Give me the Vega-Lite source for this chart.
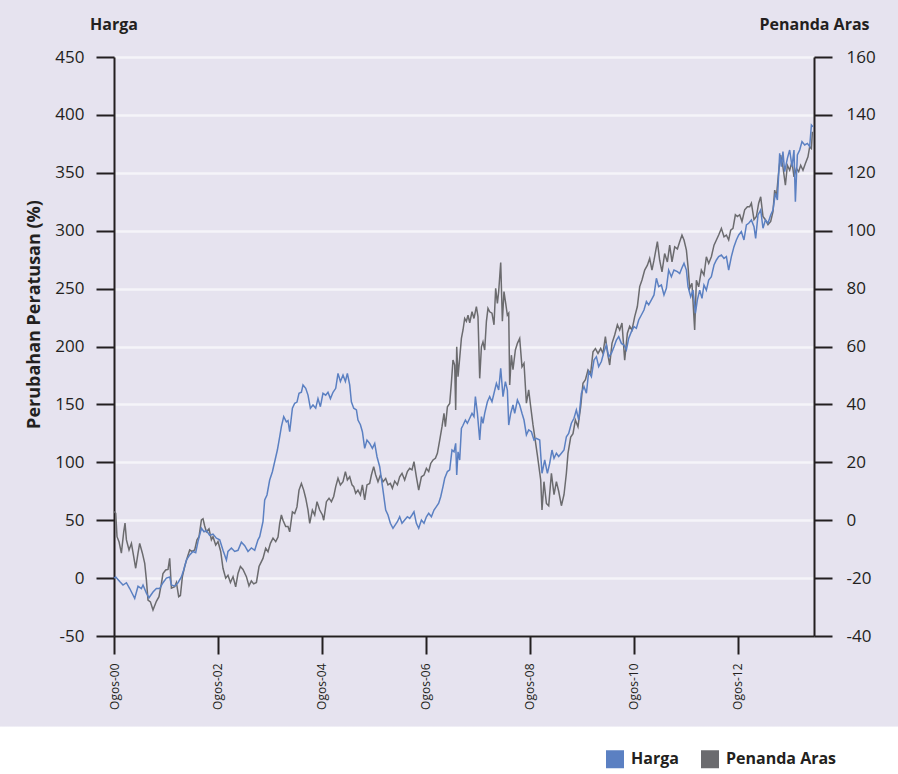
{
  "$schema": "https://vega.github.io/schema/vega-lite/v6.json",
  "width": 700,
  "height": 579,
  "autosize": {"type": "none"},
  "padding": {"left": 114, "top": 57, "right": 84, "bottom": 138},
  "background": "#ffffff",
  "datasets": {
    "harga": [
      {"year":2000.585,"value":0},{"year":2000.616,"value":1},{"year":2000.693,"value":-3},{"year":2000.756,"value":-6},{"year":2000.822,"value":-4},{"year":2000.885,"value":-9},{"year":2000.948,"value":-14.6},{"year":2000.981,"value":-17.5},{"year":2001.045,"value":-7},{"year":2001.110,"value":-9},{"year":2001.141,"value":-6},{"year":2001.206,"value":-13},{"year":2001.256,"value":-17},{"year":2001.333,"value":-12},{"year":2001.398,"value":-9},{"year":2001.462,"value":-9},{"year":2001.525,"value":-4},{"year":2001.591,"value":0},{"year":2001.654,"value":1},{"year":2001.687,"value":-6},{"year":2001.750,"value":-7},{"year":2001.814,"value":-4},{"year":2001.879,"value":1},{"year":2001.923,"value":7},{"year":2001.975,"value":15.6},{"year":2002.039,"value":20},{"year":2002.102,"value":23},{"year":2002.154,"value":22},{"year":2002.198,"value":31.5},{"year":2002.264,"value":43},{"year":2002.314,"value":40},{"year":2002.360,"value":41},{"year":2002.423,"value":37},{"year":2002.487,"value":38},{"year":2002.552,"value":34.5},{"year":2002.616,"value":33},{"year":2002.679,"value":24},{"year":2002.745,"value":15.6},{"year":2002.775,"value":23},{"year":2002.841,"value":26},{"year":2002.904,"value":23},{"year":2002.968,"value":24},{"year":2003.033,"value":31},{"year":2003.097,"value":28},{"year":2003.160,"value":23},{"year":2003.225,"value":26},{"year":2003.289,"value":24},{"year":2003.352,"value":33},{"year":2003.385,"value":35.8},{"year":2003.448,"value":48.7},{"year":2003.481,"value":67.5},{"year":2003.525,"value":71.8},{"year":2003.577,"value":84.7},{"year":2003.629,"value":91.9},{"year":2003.673,"value":100.5},{"year":2003.725,"value":110.6},{"year":2003.770,"value":122.1},{"year":2003.802,"value":130.8},{"year":2003.847,"value":139.4},{"year":2003.898,"value":135},{"year":2003.929,"value":136},{"year":2003.962,"value":126.4},{"year":2004.014,"value":146.7},{"year":2004.058,"value":151},{"year":2004.102,"value":152},{"year":2004.141,"value":159.6},{"year":2004.187,"value":160.5},{"year":2004.218,"value":166.8},{"year":2004.270,"value":163.9},{"year":2004.314,"value":158},{"year":2004.360,"value":146.7},{"year":2004.410,"value":149.5},{"year":2004.462,"value":146.7},{"year":2004.506,"value":155},{"year":2004.552,"value":148},{"year":2004.602,"value":159.6},{"year":2004.654,"value":158},{"year":2004.698,"value":160.5},{"year":2004.745,"value":155},{"year":2004.795,"value":160.5},{"year":2004.847,"value":163.9},{"year":2004.891,"value":176.8},{"year":2004.937,"value":169.8},{"year":2004.987,"value":175.4},{"year":2005.033,"value":169.8},{"year":2005.071,"value":176.8},{"year":2005.116,"value":166.8},{"year":2005.148,"value":152.3},{"year":2005.193,"value":146.7},{"year":2005.245,"value":145.2},{"year":2005.275,"value":136.5},{"year":2005.322,"value":132.4},{"year":2005.360,"value":126.4},{"year":2005.404,"value":112},{"year":2005.448,"value":119.2},{"year":2005.500,"value":116.3},{"year":2005.552,"value":112},{"year":2005.597,"value":116.3},{"year":2005.641,"value":104.8},{"year":2005.693,"value":96.2},{"year":2005.756,"value":76},{"year":2005.808,"value":58.8},{"year":2005.852,"value":54.5},{"year":2005.898,"value":47.3},{"year":2005.948,"value":43},{"year":2006.033,"value":48.7},{"year":2006.077,"value":53},{"year":2006.122,"value":47.3},{"year":2006.173,"value":50.2},{"year":2006.225,"value":53},{"year":2006.270,"value":51.6},{"year":2006.314,"value":54.5},{"year":2006.352,"value":57.3},{"year":2006.398,"value":47.3},{"year":2006.443,"value":43},{"year":2006.495,"value":50.2},{"year":2006.545,"value":47.3},{"year":2006.591,"value":53},{"year":2006.635,"value":56},{"year":2006.687,"value":53},{"year":2006.737,"value":58.8},{"year":2006.783,"value":61.7},{"year":2006.827,"value":64.6},{"year":2006.866,"value":70.3},{"year":2006.910,"value":79},{"year":2006.943,"value":86.2},{"year":2006.995,"value":92},{"year":2007.039,"value":93.4},{"year":2007.083,"value":110.6},{"year":2007.122,"value":109},{"year":2007.154,"value":116.4},{"year":2007.174,"value":89},{"year":2007.199,"value":109},{"year":2007.231,"value":102},{"year":2007.264,"value":129.3},{"year":2007.295,"value":132},{"year":2007.341,"value":136.5},{"year":2007.379,"value":133.7},{"year":2007.424,"value":138},{"year":2007.468,"value":142.3},{"year":2007.506,"value":139.5},{"year":2007.533,"value":156.7},{"year":2007.572,"value":142.3},{"year":2007.616,"value":119.3},{"year":2007.649,"value":139.5},{"year":2007.679,"value":133.7},{"year":2007.712,"value":142.3},{"year":2007.764,"value":152.3},{"year":2007.808,"value":156.7},{"year":2007.852,"value":152.3},{"year":2007.891,"value":159.6},{"year":2007.937,"value":168.2},{"year":2007.981,"value":162.4},{"year":2008.020,"value":181.2},{"year":2008.064,"value":156.7},{"year":2008.110,"value":169.7},{"year":2008.148,"value":162.4},{"year":2008.174,"value":132.2},{"year":2008.212,"value":142.3},{"year":2008.256,"value":149.5},{"year":2008.289,"value":142.3},{"year":2008.341,"value":153.8},{"year":2008.385,"value":149.5},{"year":2008.429,"value":142.3},{"year":2008.468,"value":136.5},{"year":2008.514,"value":123.6},{"year":2008.558,"value":128},{"year":2008.610,"value":126.4},{"year":2008.660,"value":119.3},{"year":2008.706,"value":120.7},{"year":2008.770,"value":119.3},{"year":2008.814,"value":90.5},{"year":2008.866,"value":102},{"year":2008.918,"value":90.5},{"year":2008.962,"value":99},{"year":2009.006,"value":110.6},{"year":2009.045,"value":103.4},{"year":2009.091,"value":107.8},{"year":2009.135,"value":105},{"year":2009.187,"value":107.8},{"year":2009.237,"value":110.6},{"year":2009.283,"value":122.1},{"year":2009.327,"value":125},{"year":2009.379,"value":133.7},{"year":2009.429,"value":138},{"year":2009.475,"value":145.2},{"year":2009.520,"value":136.6},{"year":2009.572,"value":159.6},{"year":2009.622,"value":165.4},{"year":2009.668,"value":159.6},{"year":2009.712,"value":178.3},{"year":2009.764,"value":174},{"year":2009.814,"value":188.3},{"year":2009.860,"value":191.2},{"year":2009.904,"value":182.6},{"year":2009.956,"value":187},{"year":2010.006,"value":195.5},{"year":2010.052,"value":201.3},{"year":2010.097,"value":191.2},{"year":2010.149,"value":194.1},{"year":2010.199,"value":199.8},{"year":2010.245,"value":205.6},{"year":2010.289,"value":208.5},{"year":2010.341,"value":202.7},{"year":2010.391,"value":201.3},{"year":2010.437,"value":197},{"year":2010.481,"value":207},{"year":2010.533,"value":212.8},{"year":2010.583,"value":217.2},{"year":2010.629,"value":215.7},{"year":2010.674,"value":222.9},{"year":2010.725,"value":227.2},{"year":2010.775,"value":231.5},{"year":2010.822,"value":238.8},{"year":2010.866,"value":235.9},{"year":2010.918,"value":240.2},{"year":2010.968,"value":244.5},{"year":2011.014,"value":258.9},{"year":2011.058,"value":251.7},{"year":2011.110,"value":253.1},{"year":2011.160,"value":244.5},{"year":2011.206,"value":250.2},{"year":2011.250,"value":266},{"year":2011.302,"value":260.3},{"year":2011.352,"value":266},{"year":2011.418,"value":264.6},{"year":2011.462,"value":263},{"year":2011.506,"value":268},{"year":2011.545,"value":271.8},{"year":2011.591,"value":266},{"year":2011.622,"value":251.7},{"year":2011.674,"value":243},{"year":2011.718,"value":248.7},{"year":2011.764,"value":228.7},{"year":2011.802,"value":240.2},{"year":2011.847,"value":248.7},{"year":2011.891,"value":241.6},{"year":2011.929,"value":253.1},{"year":2011.975,"value":248.7},{"year":2012.020,"value":257.4},{"year":2012.071,"value":260.3},{"year":2012.122,"value":270.4},{"year":2012.168,"value":274.7},{"year":2012.212,"value":277.6},{"year":2012.264,"value":279},{"year":2012.314,"value":276.1},{"year":2012.360,"value":277.6},{"year":2012.404,"value":266},{"year":2012.456,"value":277.6},{"year":2012.506,"value":286.2},{"year":2012.552,"value":292},{"year":2012.597,"value":296.3},{"year":2012.648,"value":299.2},{"year":2012.698,"value":292},{"year":2012.745,"value":305},{"year":2012.789,"value":306.4},{"year":2012.841,"value":309.2},{"year":2012.891,"value":303.5},{"year":2012.923,"value":293.4},{"year":2012.968,"value":313.6},{"year":2013.020,"value":317.9},{"year":2013.064,"value":302.1},{"year":2013.110,"value":309.2},{"year":2013.160,"value":306.4},{"year":2013.212,"value":313.6},{"year":2013.256,"value":317.9},{"year":2013.302,"value":332.3},{"year":2013.341,"value":326.5},{"year":2013.385,"value":366.8},{"year":2013.418,"value":355.3},{"year":2013.448,"value":368.3},{"year":2013.481,"value":351},{"year":2013.533,"value":362.5},{"year":2013.577,"value":369.7},{"year":2013.622,"value":355.3},{"year":2013.660,"value":369.7},{"year":2013.687,"value":325},{"year":2013.725,"value":365.4},{"year":2013.770,"value":369.7},{"year":2013.814,"value":376.9},{"year":2013.866,"value":374},{"year":2013.918,"value":375.4},{"year":2013.962,"value":372.6},{"year":2013.995,"value":391.3},{"year":2014.025,"value":389.8}
    ],
    "aras": [
      {"year":2000.585,"value":3},{"year":2000.616,"value":2.4},{"year":2000.641,"value":-5.7},{"year":2000.679,"value":-7.4},{"year":2000.725,"value":-11.4},{"year":2000.770,"value":-4},{"year":2000.795,"value":-1},{"year":2000.822,"value":-6.8},{"year":2000.872,"value":-10.3},{"year":2000.918,"value":-8},{"year":2000.962,"value":-12.6},{"year":2001.000,"value":-16.6},{"year":2001.045,"value":-11.4},{"year":2001.077,"value":-8},{"year":2001.129,"value":-11.4},{"year":2001.174,"value":-14.9},{"year":2001.206,"value":-20.6},{"year":2001.237,"value":-27.6},{"year":2001.283,"value":-28.2},{"year":2001.333,"value":-31},{"year":2001.398,"value":-28},{"year":2001.448,"value":-26.4},{"year":2001.495,"value":-21.8},{"year":2001.525,"value":-18.4},{"year":2001.577,"value":-17.2},{"year":2001.622,"value":-17},{"year":2001.654,"value":-13.2},{"year":2001.687,"value":-23.5},{"year":2001.750,"value":-23},{"year":2001.783,"value":-21.5},{"year":2001.827,"value":-26.4},{"year":2001.860,"value":-26},{"year":2001.898,"value":-19.5},{"year":2001.943,"value":-16},{"year":2001.987,"value":-13.2},{"year":2002.039,"value":-10.3},{"year":2002.083,"value":-10.8},{"year":2002.135,"value":-10.3},{"year":2002.179,"value":-6.8},{"year":2002.218,"value":-5.7},{"year":2002.264,"value":0.1},{"year":2002.295,"value":0.5},{"year":2002.327,"value":-2},{"year":2002.360,"value":-4},{"year":2002.410,"value":-3},{"year":2002.456,"value":-6.8},{"year":2002.487,"value":-5.7},{"year":2002.539,"value":-8.6},{"year":2002.583,"value":-7.4},{"year":2002.635,"value":-10.8},{"year":2002.679,"value":-16.6},{"year":2002.731,"value":-20},{"year":2002.775,"value":-19},{"year":2002.822,"value":-21.5},{"year":2002.872,"value":-19.5},{"year":2002.923,"value":-23},{"year":2002.968,"value":-18.4},{"year":2003.014,"value":-16},{"year":2003.064,"value":-17},{"year":2003.129,"value":-19.5},{"year":2003.179,"value":-22.7},{"year":2003.225,"value":-21},{"year":2003.270,"value":-22},{"year":2003.322,"value":-21.5},{"year":2003.372,"value":-16},{"year":2003.448,"value":-13.2},{"year":2003.500,"value":-9.7},{"year":2003.545,"value":-10.9},{"year":2003.591,"value":-8},{"year":2003.641,"value":-6.2},{"year":2003.693,"value":-7.4},{"year":2003.737,"value":-5.8},{"year":2003.770,"value":-1.1},{"year":2003.802,"value":1.8},{"year":2003.833,"value":0},{"year":2003.885,"value":-2.2},{"year":2003.929,"value":-2.2},{"year":2003.962,"value":-4},{"year":2004.014,"value":2.9},{"year":2004.058,"value":2.3},{"year":2004.102,"value":4.6},{"year":2004.141,"value":10.4},{"year":2004.187,"value":12.7},{"year":2004.231,"value":10.4},{"year":2004.270,"value":7.6},{"year":2004.314,"value":3.5},{"year":2004.347,"value":-1.1},{"year":2004.398,"value":3.5},{"year":2004.443,"value":1.8},{"year":2004.487,"value":6.4},{"year":2004.539,"value":3.5},{"year":2004.591,"value":1.8},{"year":2004.616,"value":0},{"year":2004.668,"value":6.4},{"year":2004.718,"value":7.6},{"year":2004.764,"value":6.4},{"year":2004.808,"value":8.2},{"year":2004.847,"value":11.6},{"year":2004.891,"value":14.5},{"year":2004.937,"value":12.2},{"year":2004.987,"value":13.3},{"year":2005.033,"value":16.8},{"year":2005.071,"value":13.9},{"year":2005.116,"value":15},{"year":2005.160,"value":12.2},{"year":2005.193,"value":11.6},{"year":2005.231,"value":9.3},{"year":2005.275,"value":10.4},{"year":2005.322,"value":8.7},{"year":2005.360,"value":12.2},{"year":2005.404,"value":7},{"year":2005.448,"value":12.2},{"year":2005.500,"value":12.7},{"year":2005.533,"value":15.6},{"year":2005.577,"value":18.5},{"year":2005.616,"value":15.6},{"year":2005.660,"value":13.3},{"year":2005.706,"value":15.6},{"year":2005.756,"value":13.3},{"year":2005.808,"value":14.4},{"year":2005.852,"value":12.2},{"year":2005.898,"value":12.7},{"year":2005.937,"value":11},{"year":2005.981,"value":13.5},{"year":2006.033,"value":12.2},{"year":2006.077,"value":15},{"year":2006.122,"value":16.2},{"year":2006.173,"value":13.9},{"year":2006.225,"value":16.8},{"year":2006.270,"value":17.9},{"year":2006.314,"value":17.4},{"year":2006.352,"value":20.2},{"year":2006.398,"value":15},{"year":2006.443,"value":10.4},{"year":2006.495,"value":15},{"year":2006.545,"value":15.6},{"year":2006.591,"value":17.9},{"year":2006.635,"value":16.8},{"year":2006.674,"value":19.6},{"year":2006.718,"value":20.8},{"year":2006.764,"value":21.4},{"year":2006.802,"value":23.1},{"year":2006.847,"value":27.7},{"year":2006.891,"value":32.3},{"year":2006.929,"value":36.9},{"year":2006.956,"value":32.3},{"year":2006.995,"value":39.2},{"year":2007.039,"value":40.3},{"year":2007.071,"value":47.3},{"year":2007.102,"value":55.3},{"year":2007.135,"value":53.6},{"year":2007.154,"value":38.1},{"year":2007.174,"value":59.9},{"year":2007.199,"value":49.6},{"year":2007.231,"value":56},{"year":2007.264,"value":62.8},{"year":2007.295,"value":65.7},{"year":2007.327,"value":69.7},{"year":2007.360,"value":68.7},{"year":2007.391,"value":70.8},{"year":2007.424,"value":68.2},{"year":2007.468,"value":72},{"year":2007.506,"value":69.7},{"year":2007.552,"value":73.8},{"year":2007.583,"value":70.3},{"year":2007.616,"value":49},{"year":2007.649,"value":59.9},{"year":2007.679,"value":61.6},{"year":2007.712,"value":58.8},{"year":2007.745,"value":68.7},{"year":2007.775,"value":73.2},{"year":2007.808,"value":72},{"year":2007.852,"value":71.5},{"year":2007.891,"value":67.5},{"year":2007.923,"value":80.1},{"year":2007.956,"value":74.9},{"year":2007.981,"value":79},{"year":2008.020,"value":89},{"year":2008.052,"value":68.7},{"year":2008.083,"value":79},{"year":2008.116,"value":74.9},{"year":2008.148,"value":70.8},{"year":2008.174,"value":71.5},{"year":2008.193,"value":46.7},{"year":2008.225,"value":57},{"year":2008.256,"value":52},{"year":2008.302,"value":58.8},{"year":2008.341,"value":61.1},{"year":2008.385,"value":62.8},{"year":2008.429,"value":53},{"year":2008.468,"value":54.2},{"year":2008.514,"value":40.4},{"year":2008.558,"value":45},{"year":2008.597,"value":39.2},{"year":2008.641,"value":32.9},{"year":2008.674,"value":28.9},{"year":2008.725,"value":22.5},{"year":2008.789,"value":13.9},{"year":2008.814,"value":3.5},{"year":2008.852,"value":13.3},{"year":2008.899,"value":5.8},{"year":2008.943,"value":5},{"year":2008.995,"value":16.2},{"year":2009.045,"value":8.8},{"year":2009.091,"value":13.3},{"year":2009.135,"value":10},{"year":2009.187,"value":5},{"year":2009.237,"value":8.8},{"year":2009.283,"value":16.2},{"year":2009.314,"value":23.1},{"year":2009.366,"value":28.7},{"year":2009.410,"value":29.9},{"year":2009.456,"value":34.6},{"year":2009.506,"value":32.3},{"year":2009.558,"value":39.2},{"year":2009.602,"value":47.3},{"year":2009.649,"value":48.5},{"year":2009.699,"value":51.9},{"year":2009.750,"value":50.7},{"year":2009.795,"value":58.2},{"year":2009.841,"value":59.3},{"year":2009.891,"value":57.6},{"year":2009.943,"value":59.3},{"year":2009.987,"value":57.6},{"year":2010.033,"value":63.4},{"year":2010.071,"value":58.2},{"year":2010.116,"value":53.6},{"year":2010.160,"value":61.1},{"year":2010.212,"value":64},{"year":2010.264,"value":67.5},{"year":2010.308,"value":65.7},{"year":2010.352,"value":68.1},{"year":2010.404,"value":55.3},{"year":2010.456,"value":64.6},{"year":2010.500,"value":67},{"year":2010.545,"value":65.7},{"year":2010.597,"value":70.3},{"year":2010.648,"value":73.8},{"year":2010.693,"value":80.7},{"year":2010.737,"value":83},{"year":2010.789,"value":86.4},{"year":2010.841,"value":88.1},{"year":2010.885,"value":90.4},{"year":2010.929,"value":86.4},{"year":2010.968,"value":89.8},{"year":2011.033,"value":96.2},{"year":2011.077,"value":89.8},{"year":2011.122,"value":85.8},{"year":2011.173,"value":92.1},{"year":2011.225,"value":89.2},{"year":2011.270,"value":95},{"year":2011.314,"value":89.2},{"year":2011.366,"value":94.4},{"year":2011.418,"value":93.7},{"year":2011.462,"value":96.2},{"year":2011.506,"value":98.5},{"year":2011.545,"value":96.8},{"year":2011.591,"value":93.3},{"year":2011.622,"value":87.6},{"year":2011.654,"value":80.1},{"year":2011.698,"value":81.8},{"year":2011.750,"value":65.7},{"year":2011.783,"value":82.9},{"year":2011.827,"value":80.6},{"year":2011.879,"value":86.4},{"year":2011.929,"value":84.7},{"year":2011.975,"value":91},{"year":2012.020,"value":88.7},{"year":2012.071,"value":91},{"year":2012.122,"value":95},{"year":2012.168,"value":96.8},{"year":2012.212,"value":98.5},{"year":2012.264,"value":100.8},{"year":2012.314,"value":97.9},{"year":2012.360,"value":98.5},{"year":2012.404,"value":96.8},{"year":2012.443,"value":100.2},{"year":2012.487,"value":100.8},{"year":2012.533,"value":105.5},{"year":2012.572,"value":104.9},{"year":2012.616,"value":105.5},{"year":2012.660,"value":103.2},{"year":2012.712,"value":107.2},{"year":2012.764,"value":108.3},{"year":2012.808,"value":108.3},{"year":2012.841,"value":109.5},{"year":2012.891,"value":103.8},{"year":2012.937,"value":104.9},{"year":2012.981,"value":109.5},{"year":2013.020,"value":111.7},{"year":2013.064,"value":104.9},{"year":2013.110,"value":103.8},{"year":2013.160,"value":102.1},{"year":2013.212,"value":103.2},{"year":2013.256,"value":106.6},{"year":2013.289,"value":114},{"year":2013.322,"value":111.7},{"year":2013.366,"value":120.4},{"year":2013.404,"value":126.1},{"year":2013.448,"value":122},{"year":2013.495,"value":115.7},{"year":2013.533,"value":122.6},{"year":2013.577,"value":120.9},{"year":2013.622,"value":123.8},{"year":2013.660,"value":118.6},{"year":2013.706,"value":121.5},{"year":2013.750,"value":120.4},{"year":2013.789,"value":122.6},{"year":2013.833,"value":120.9},{"year":2013.879,"value":123.2},{"year":2013.929,"value":125.5},{"year":2013.962,"value":129},{"year":2013.995,"value":128.4},{"year":2014.014,"value":134.2}
    ]
  },
  "layer": [
    {
      "data": {"name": "aras"},
      "mark": {"type": "line", "strokeWidth": 1.5},
      "encoding": {
        "x": {
          "field": "year", "type": "quantitative",
          "scale": {"domain": [2000.583, 2014.045], "nice": false, "zero": false},
          "axis": {
            "orient": "bottom",
            "values": [2000.583, 2002.583, 2004.583, 2006.583, 2008.583, 2010.583, 2012.583],
            "labelExpr": "'Ogos-' + format(floor(datum.value) % 100, '02d')",
            "labelAngle": -90, "labelFontSize": 12, "labelPadding": 9, "labelFlush": false,
            "title": null, "grid": false
          }
        },
        "y": {
          "field": "value", "type": "quantitative",
          "scale": {"domain": [-40, 160], "nice": false, "zero": false},
          "axis": {
            "orient": "right",
            "values": [-40, -20, 0, 20, 40, 60, 80, 100, 120, 140, 160],
            "labelExpr": "'' + datum.value",
            "labelFontSize": 17, "labelPadding": 14, "labelFlush": false, "grid": false,
            "title": "Penanda Aras", "titleAngle": 0, "titleX": 0, "titleY": -27.5,
            "titleAlign": "center", "titleBaseline": "alphabetic", "titleFontSize": 16
          }
        },
        "color": {
          "datum": "Penanda Aras", "type": "nominal",
          "scale": {"domain": ["Harga", "Penanda Aras"], "range": ["#5b80c2", "#6b6b6e"]},
          "legend": {
            "title": null, "orient": "none", "legendX": 492, "legendY": 693,
            "direction": "horizontal", "symbolType": "square", "symbolSize": 81,
            "symbolStrokeWidth": 9, "labelFontSize": 16, "labelFontWeight": "bold",
            "labelColor": "#231f20", "labelOffset": 7, "columnPadding": 8, "padding": 0
          }
        }
      }
    },
    {
      "data": {"name": "harga"},
      "mark": {"type": "line", "strokeWidth": 1.5},
      "encoding": {
        "x": {
          "field": "year", "type": "quantitative",
          "axis": {
            "orient": "top", "labels": false, "ticks": false, "domain": false, "grid": false,
            "title": "Harga", "titleAngle": 0, "titleX": -0.5, "titleY": -27.5,
            "titleAlign": "center", "titleBaseline": "alphabetic", "titleFontSize": 16
          }
        },
        "y": {
          "field": "value", "type": "quantitative",
          "scale": {"domain": [-50, 450], "nice": false, "zero": false},
          "axis": {
            "orient": "left",
            "values": [-50, 0, 50, 100, 150, 200, 250, 300, 350, 400, 450],
            "labelExpr": "'' + datum.value",
            "labelFontSize": 17, "labelPadding": 12, "labelFlush": false, "grid": true,
            "title": "Perubahan Peratusan (%)", "titleAngle": -90, "titleX": -80, "titleY": 257,
            "titleAlign": "center", "titleBaseline": "middle", "titleFontSize": 18
          }
        },
        "color": {"datum": "Harga", "type": "nominal"}
      }
    }
  ],
  "resolve": {"scale": {"y": "independent"}, "axis": {"x": "independent"}},
  "config": {
    "font": "Open Sans",
    "view": {
      "fill": "#e6e3ef",
      "stroke": {
        "gradient": "linear", "x1": 0, "y1": 0, "x2": 0, "y2": 1.157,
        "stops": [
          {"offset": 0, "color": "#e6e3ef"},
          {"offset": 0.999, "color": "#e6e3ef"},
          {"offset": 1, "color": "#ffffff"}
        ]
      },
      "strokeWidth": 240
    },
    "axis": {
      "domainColor": "#231f20", "domainWidth": 2,
      "tickColor": "#231f20", "tickWidth": 2, "tickSize": 18,
      "labelColor": "#231f20", "labelFont": "Open Sans",
      "titleFont": "Open Sans", "titleColor": "#231f20", "titleFontWeight": "bold",
      "gridColor": "#f5f4f9", "gridWidth": 2.5
    },
    "legend": {"labelFont": "Open Sans"}
  }
}
